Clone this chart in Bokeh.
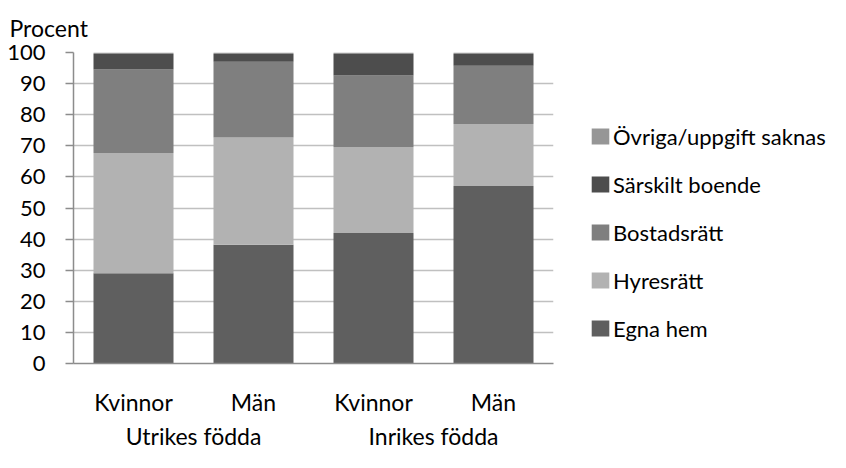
from bokeh.plotting import figure
from bokeh.layouts import row
from bokeh.models import (ColumnDataSource, FixedTicker, Legend, LegendItem,
                          Range1d, LinearAxis)
from bokeh.embed import file_html
from bokeh.resources import INLINE

# ---- data ----
categories = ["Kvinnor", "Män", "Kvinnor", "Män"]
groups = ["Utrikes födda", "Inrikes födda"]
series = ["Egna hem", "Hyresrätt", "Bostadsrätt", "Särskilt boende", "Övriga/uppgift saknas"]
egna_hem = [29.0, 38.2, 42.0, 57.1]
hyresratt = [38.7, 34.5, 27.6, 19.9]
bostadsratt = [26.8, 24.3, 23.0, 18.7]
sarskilt_boende = [5.0, 2.5, 6.9, 3.8]
ovriga = [0.5, 0.5, 0.5, 0.5]
y_ticks = list(range(0, 101, 10))

colors = ["#5f5f5f", "#b2b2b2", "#7f7f7f", "#4d4d4d", "#969696"]
FONT = "Lato"

x_pos = [i + 0.5 for i in range(len(categories))]
group_pos = [1.0, 3.0]
keys = ["egna", "hyres", "bostad", "sarskilt", "ovriga"]
source = ColumnDataSource(dict(x=x_pos, egna=egna_hem, hyres=hyresratt,
                               bostad=bostadsratt, sarskilt=sarskilt_boende,
                               ovriga=ovriga))

p = figure(width=560, height=452, output_backend="svg", toolbar_location=None,
           x_range=Range1d(0, len(categories)), y_range=Range1d(0, 100),
           min_border_left=73, min_border_right=7, min_border_top=49,
           min_border_bottom=83, outline_line_color=None)

renderers = p.vbar_stack(keys, x="x", width=2 / 3, source=source,
                         fill_color=colors, line_color=None)

# title "Procent" at top-left
p.title.text = "Procent"
p.title.align = "left"
p.title.offset = -64
p.title.standoff = 22
p.title.text_font = FONT
p.title.text_font_size = "23px"
p.title.text_font_style = "normal"
p.title.text_color = "#000000"

# category axis
p.xaxis.ticker = FixedTicker(ticks=x_pos)
p.xaxis.major_label_overrides = {x: c for x, c in zip(x_pos, categories)}
p.xaxis.major_tick_line_color = None
p.xaxis.minor_tick_line_color = None
p.xaxis.major_tick_out = 0
p.xaxis.major_tick_in = 0
p.xaxis.major_label_standoff = 24
p.xaxis.axis_line_color = "#8c8c8c"
p.xaxis.axis_line_width = 1.5
p.xaxis.major_label_text_font = FONT
p.xaxis.major_label_text_font_size = "23px"
p.xaxis.major_label_text_color = "#000000"

# group axis
gaxis = LinearAxis(ticker=FixedTicker(ticks=group_pos),
                   major_label_overrides={g: t for g, t in zip(group_pos, groups)},
                   axis_line_color=None, major_tick_line_color=None,
                   minor_tick_line_color=None, major_tick_out=0, major_tick_in=0,
                   major_label_standoff=3, major_label_text_font=FONT,
                   major_label_text_font_size="23px",
                   major_label_text_color="#000000")
p.add_layout(gaxis, "below")

p.yaxis.ticker = FixedTicker(ticks=y_ticks)
p.yaxis.minor_tick_line_color = None
p.yaxis.major_tick_out = 8
p.yaxis.major_tick_in = 0
p.yaxis.major_tick_line_color = "#8c8c8c"
p.yaxis.major_tick_line_width = 1.5
p.yaxis.axis_line_color = "#8c8c8c"
p.yaxis.axis_line_width = 1.5
p.yaxis.major_label_standoff = 20
p.yaxis.major_label_text_font = FONT
p.yaxis.major_label_text_font_size = "22px"
p.yaxis.major_label_text_color = "#000000"

p.xgrid.grid_line_color = None
p.ygrid.grid_line_color = "#c0c0c0"
p.ygrid.grid_line_width = 1.5
p.ygrid.level = "underlay"

# ---- legend panel (separate figure on the right) ----
# hidden copies of the stacked bars, used only for their legend entries
lp = figure(width=270, height=452, output_backend="svg", toolbar_location=None,
            x_range=Range1d(0, len(categories)), y_range=Range1d(0, 100),
            x_axis_location=None, y_axis_location=None,
            min_border_left=0, min_border_right=0, min_border_bottom=83,
            min_border_top=49, outline_line_color=None)
lp.xgrid.grid_line_color = None
lp.ygrid.grid_line_color = None
legend_renderers = lp.vbar_stack(keys, x="x", width=2 / 3, source=source,
                                 fill_color=colors, line_color=None)
for r in legend_renderers:
    r.visible = False
items = [LegendItem(label=s, renderers=[r])
         for s, r in zip(series, legend_renderers)][::-1]
legend = Legend(items=items, location=(29, 20), orientation="vertical",
                glyph_width=22, glyph_height=20, label_standoff=2,
                label_height=30, spacing=18, padding=0, margin=0,
                border_line_color=None, background_fill_alpha=0,
                inactive_fill_alpha=0,
                label_text_font=FONT, label_text_font_size="22px",
                label_text_color="#000000")
lp.add_layout(legend, "center")

layout = row(p, lp, spacing=0)
open("out.html", "w").write(file_html(layout, INLINE))
